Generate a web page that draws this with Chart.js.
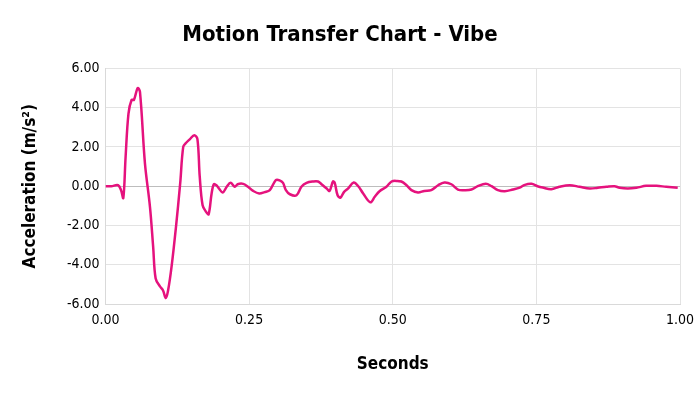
<!DOCTYPE html>
<html>
<head>
<meta charset="utf-8">
<script src="https://cdn.jsdelivr.net/npm/chart.js@4"></script>
<style>
  html, body { margin: 0; padding: 0; background: #fff; }
  #wrap { width: 700px; height: 394px; }
</style>
</head>
<body>
<div id="wrap"><canvas id="vibeChart"></canvas></div>
<script>
const seconds = [0, 0.01, 0.022, 0.027, 0.031, 0.035, 0.040, 0.0455, 0.0495, 0.056, 0.060, 0.0687, 0.0774, 0.083, 0.0873, 0.0948, 0.1, 0.105, 0.109, 0.115, 0.1226, 0.13, 0.1353, 0.14, 0.147, 0.1545, 0.16, 0.164, 0.169, 0.175, 0.1795, 0.1847, 0.1887, 0.193, 0.197, 0.204, 0.211, 0.2177, 0.225, 0.230, 0.2397, 0.248, 0.257, 0.2675, 0.277, 0.286, 0.2965, 0.303, 0.309, 0.314, 0.321, 0.3325, 0.341, 0.350, 0.361, 0.370, 0.376, 0.385, 0.390, 0.396, 0.399, 0.404, 0.409, 0.415, 0.422, 0.432, 0.440, 0.4485, 0.461, 0.4687, 0.477, 0.489, 0.498, 0.507, 0.515, 0.524, 0.5325, 0.544, 0.555, 0.567, 0.579, 0.590, 0.602, 0.6135, 0.625, 0.637, 0.648, 0.662, 0.672, 0.683, 0.695, 0.709, 0.721, 0.730, 0.7415, 0.752, 0.761, 0.776, 0.790, 0.808, 0.825, 0.843, 0.857, 0.872, 0.886, 0.895, 0.909, 0.924, 0.941, 0.959, 0.976, 0.996];
const acceleration = [0, 0, 0.05, -0.2, -0.6, 1.5, 3.7, 4.4, 4.4, 5.0, 4.8, 1.15, -1.05, -3.1, -4.7, -5.1, -5.3, -5.7, -5.3, -4.1, -2.1, 0.14, 2.0, 2.2, 2.4, 2.6, 2.4, 0.5, -0.97, -1.3, -1.43, -0.37, 0.1, 0.05, -0.1, -0.32, -0.03, 0.17, -0.03, 0.1, 0.12, -0.03, -0.24, -0.37, -0.3, -0.2, 0.31, 0.3, 0.17, -0.2, -0.41, -0.46, -0.03, 0.17, 0.24, 0.24, 0.1, -0.12, -0.24, 0.24, 0.17, -0.46, -0.58, -0.3, -0.12, 0.19, 0, -0.37, -0.82, -0.54, -0.26, -0.03, 0.24, 0.27, 0.24, 0.05, -0.2, -0.32, -0.24, -0.2, 0.05, 0.19, 0.1, -0.17, -0.2, -0.17, 0, 0.12, 0, -0.2, -0.26, -0.17, -0.07, 0.07, 0.12, 0, -0.07, -0.15, -0.03, 0.05, -0.03, -0.12, -0.08, -0.03, 0, -0.08, -0.12, -0.08, 0.02, 0.02, -0.03, -0.08];
const xTicks = [0, 0.25, 0.5, 0.75, 1];
const yTicks = [-6, -4, -2, 0, 2, 4, 6];

const font = "'DejaVu Sans Condensed', 'DejaVu Sans', sans-serif";

new Chart(document.getElementById('vibeChart'), {
    type: 'line',
    data: {
        datasets: [{
            label: 'Vibe',
            data: seconds.map((s, i) => ({ x: s, y: acceleration[i] })),
            borderColor: '#e5127d',
            borderWidth: 2.5,
            pointRadius: 0,
            tension: 0.35
        }]
    },
    options: {
        responsive: true,
        maintainAspectRatio: false,
        animation: false,
        layout: { padding: { left: 0, right: 20, top: 0, bottom: 0 } },
        plugins: {
            legend: { display: false },
            tooltip: { enabled: false },
            title: {
                display: true,
                text: 'Motion Transfer Chart - Vibe',
                color: '#000',
                font: { family: font, size: 22, weight: 'bold' },
                padding: { top: 22, bottom: 20 }
            }
        },
        scales: {
            x: {
                type: 'linear',
                min: 0,
                max: 1,
                afterBuildTicks: axis => { axis.ticks = xTicks.map(v => ({ value: v })); },
                afterFit: axis => {
                    axis.height = 90;
                    axis.paddingLeft = 0;
                    axis.paddingRight = 0;
                },
                ticks: {
                    color: '#000',
                    font: { family: font, size: 14 },
                    padding: 8,
                    maxRotation: 0,
                    callback: v => v.toFixed(2)
                },
                grid: { color: '#e3e3e3', drawTicks: false },
                border: { color: '#d9d9d9' },
                title: {
                    display: true,
                    text: 'Seconds',
                    color: '#000',
                    font: { family: font, size: 17, weight: 'bold' },
                    padding: { top: 0, bottom: 19 }
                }
            },
            y: {
                min: -6,
                max: 6,
                afterBuildTicks: axis => { axis.ticks = yTicks.map(v => ({ value: v })); },
                afterFit: axis => { axis.width = 105.5; },
                ticks: {
                    color: '#000',
                    font: { family: font, size: 14 },
                    padding: 6,
                    callback: v => v.toFixed(2)
                },
                grid: {
                    drawTicks: false,
                    color: c => c.tick && c.tick.value === 0 ? '#bdbdbd' : '#e3e3e3'
                },
                border: { color: '#d9d9d9' },
                title: {
                    display: true,
                    text: 'Acceleration (m/s²)',
                    color: '#000',
                    font: { family: font, size: 17, weight: 'bold' },
                    padding: { top: 20, bottom: 0 }
                }
            }
        }
    }
});
</script>
</body>
</html>
